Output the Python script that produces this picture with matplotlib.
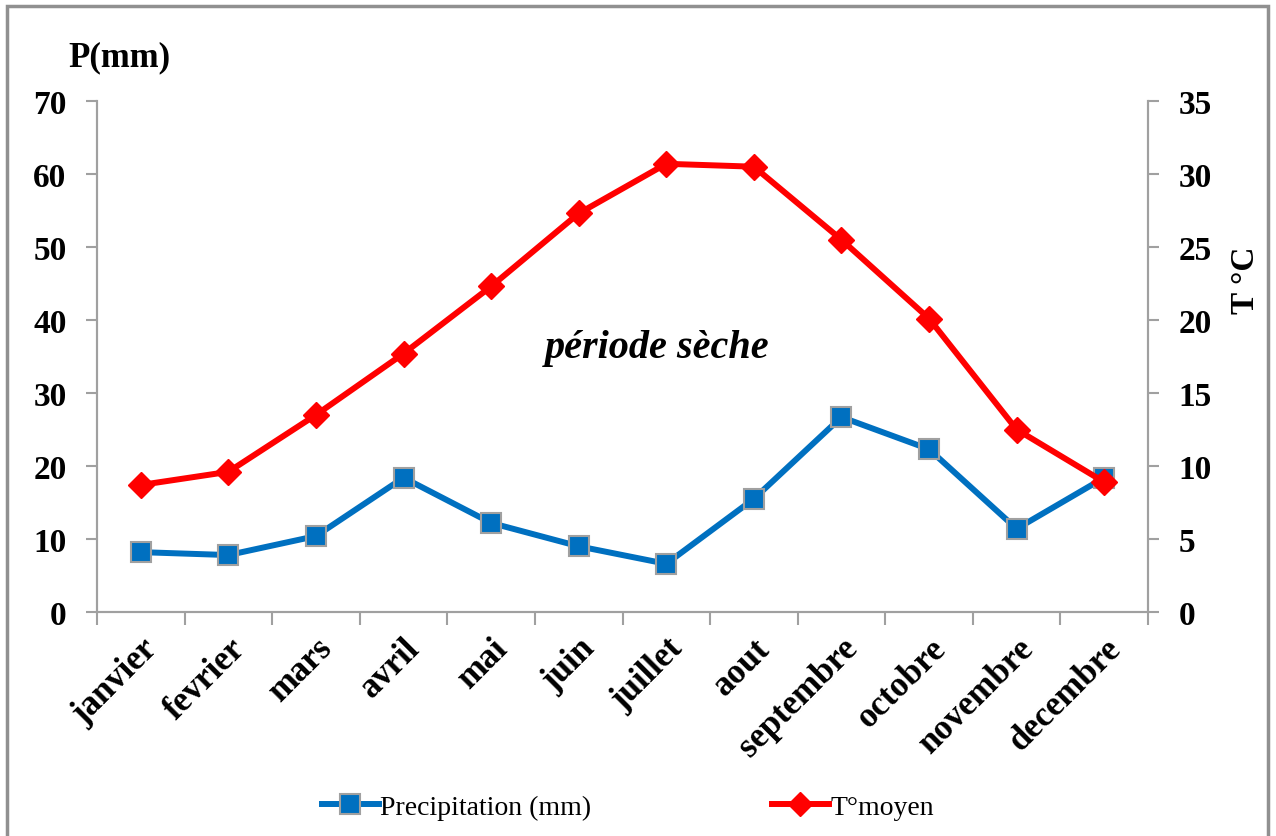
import matplotlib.pyplot as plt
from matplotlib.patches import Rectangle
from matplotlib.lines import Line2D

mois = ['janvier', 'fevrier', 'mars', 'avril', 'mai', 'juin', 'juillet',
        'aout', 'septembre', 'octobre', 'novembre', 'decembre']
precip = [8.2, 7.8, 10.4, 18.4, 12.2, 9.0, 6.6, 15.5, 26.7, 22.3, 11.4, 18.4]
temp = [8.7, 9.6, 13.5, 17.7, 22.3, 27.3, 30.7, 30.5, 25.5, 20.1, 12.5, 8.9]

plt.rcParams['font.family'] = ['Liberation Serif', 'DejaVu Serif']
gris = '#a0a0a0'
bleu = '#0070c0'
rouge = '#ff0000'

fig = plt.figure(figsize=(12.76, 8.37), dpi=100)
ax = fig.add_axes([97 / 1276, 1 - 613 / 837, (1148 - 97) / 1276, (613 - 102) / 837])
ax2 = ax.twinx()

x = list(range(len(mois)))
ax.plot(x, precip, color=bleu, lw=4.3, marker='s', markersize=15,
        markerfacecolor=bleu, markeredgecolor=gris, markeredgewidth=1.5, zorder=3)
ax2.plot(x, temp, color=rouge, lw=4.3, marker='D', markersize=13,
         markerfacecolor=rouge, markeredgecolor=rouge, zorder=3)

ax.set_xlim(-0.5, 11.5)
ax.set_ylim(0, 70)
ax2.set_ylim(0, 35)
ax.set_yticks(range(0, 71, 10))
ax2.set_yticks(range(0, 36, 5))

ax.set_xticks([i - 0.5 for i in range(13)])
ax.set_xticklabels([])
ax.set_xticks(x, minor=True)
ax.set_xticklabels(mois, minor=True, rotation=45, ha='right', va='top',
                   rotation_mode='anchor', fontsize=25, fontweight='bold')
ax.tick_params(axis='x', which='minor', length=0, pad=14)
ax.tick_params(axis='x', which='major', length=9, width=1.5, color=gris)

for a in (ax, ax2):
    for s in a.spines.values():
        s.set_color(gris)
        s.set_linewidth(1.5)
    a.spines['top'].set_visible(False)
    a.tick_params(axis='y', length=8, width=1.5, color=gris, labelsize=24, pad=14)
    for lab in a.get_yticklabels():
        lab.set_fontweight('bold')

fig.text(68 / 1276, 1 - 58 / 837, 'P(mm)', fontsize=25, fontweight='bold',
         va='center', ha='left')
fig.text(1245 / 1276, 1 - 280 / 837, 'T °C', fontsize=24, fontweight='bold',
         rotation=90, va='center', ha='center')
ax.text(5.9, 36.3, 'période sèche', fontsize=29, fontweight='bold',
        fontstyle='italic', ha='center', va='center')

handles = [
    Line2D([], [], color=bleu, lw=4.3, marker='s', markersize=14,
           markerfacecolor=bleu, markeredgecolor=gris, markeredgewidth=1.5),
    Line2D([], [], color=rouge, lw=4.3, marker='D', markersize=12,
           markerfacecolor=rouge, markeredgecolor=rouge),
]
fig.legend(handles, ['Precipitation (mm)', 'T°moyen'], loc='center',
           bbox_to_anchor=(628 / 1276, 1 - 808 / 837), ncol=2, frameon=False,
           fontsize=20, handlelength=2.05, handletextpad=0.05, columnspacing=6.5)

fig.patches.append(Rectangle((7 / 1276, -0.01), (1268 - 7) / 1276,
                             1.01 - 7 / 837, transform=fig.transFigure,
                             fill=False, edgecolor='#909090', lw=2.5))

fig.savefig('out.png', dpi=100)
